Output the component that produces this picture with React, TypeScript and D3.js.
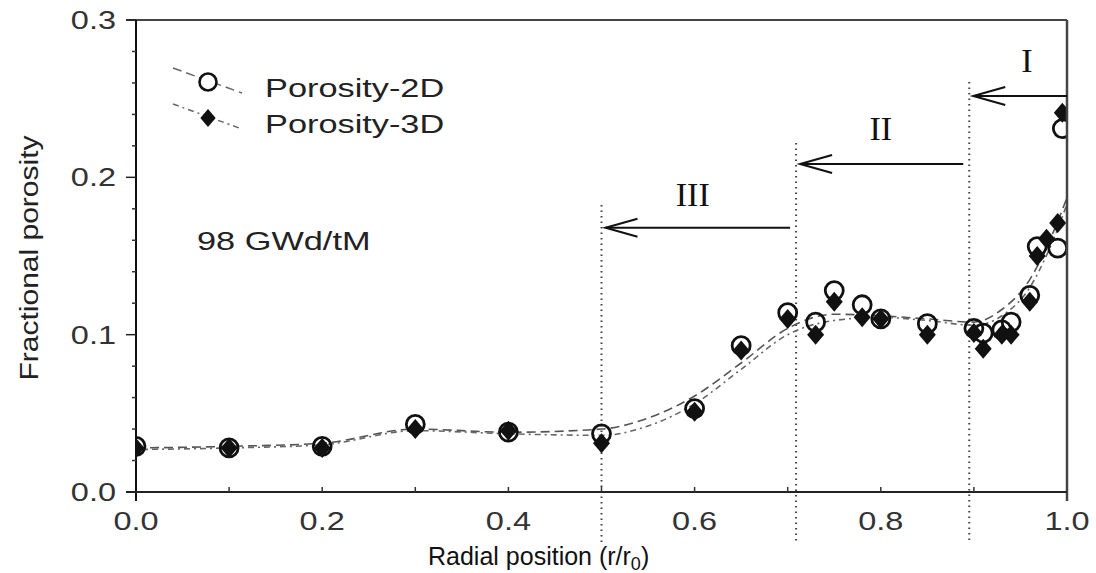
import React from 'react';
import * as d3 from 'd3';

// ---- data ----
const R2D = [0, 0.1, 0.2, 0.3, 0.4, 0.5, 0.6, 0.65, 0.7, 0.73, 0.75, 0.78, 0.8, 0.85, 0.9, 0.91, 0.93, 0.94, 0.96, 0.968, 0.99, 0.995];
const P2D = [0.029, 0.028, 0.029, 0.043, 0.038, 0.037, 0.053, 0.093, 0.114, 0.108, 0.128, 0.119, 0.11, 0.107, 0.104, 0.101, 0.103, 0.108, 0.125, 0.156, 0.155, 0.231];
const R3D = [0, 0.1, 0.2, 0.3, 0.4, 0.5, 0.6, 0.65, 0.7, 0.73, 0.75, 0.78, 0.8, 0.85, 0.9, 0.91, 0.93, 0.94, 0.96, 0.968, 0.978, 0.99, 0.995];
const P3D = [0.028, 0.028, 0.028, 0.04, 0.039, 0.031, 0.051, 0.09, 0.11, 0.1, 0.121, 0.111, 0.11, 0.1, 0.101, 0.091, 0.1, 0.1, 0.121, 0.15, 0.161, 0.171, 0.241];

const FIT_R = [0, 0.1, 0.2, 0.3, 0.4, 0.5, 0.55, 0.6, 0.65, 0.7, 0.75, 0.8, 0.85, 0.9, 0.93, 0.96, 0.98, 1.0];
const FIT_2D = [0.028, 0.029, 0.031, 0.04, 0.038, 0.04, 0.047, 0.061, 0.082, 0.104, 0.113, 0.112, 0.11, 0.108, 0.116, 0.135, 0.158, 0.187];
const FIT_3D = [0.027, 0.028, 0.03, 0.039, 0.037, 0.036, 0.042, 0.056, 0.078, 0.1, 0.109, 0.111, 0.109, 0.106, 0.112, 0.13, 0.153, 0.183];

const X_TICKS = [0, 0.2, 0.4, 0.6, 0.8, 1.0];
const X_TICK_LABELS = ['0.0', '0.2', '0.4', '0.6', '0.8', '1.0'];
const Y_TICKS = [0, 0.1, 0.2, 0.3];
const Y_TICK_LABELS = ['0.0', '0.1', '0.2', '0.3'];

const ZONE_LABELS = ['I', 'II', 'III'];
const ZONE_BOUND = [0.895, 0.709, 0.5];      // dotted line position
const ZONE_FROM = [1.0, 0.895, 0.709];       // arrow tail
const ZONE_TOP = [0.2606, 0.2218, 0.1824];   // dotted line top
const ZONE_ARROW_Y = [0.2517, 0.2085, 0.168];
const ZONE_LABEL_R = [0.957, 0.8, 0.598];
const ZONE_LABEL_Y = [0.267, 0.224, 0.182];

const W = 1096, H = 573;
const X0 = 136, X1 = 1067, Y0 = 492, Y1 = 20;

function T({ x, y, size, sx = 1, anchor = 'start', rot = 0, fill = '#222', family = 'Arial, "Liberation Sans", sans-serif', children }: any) {
  return (
    <text
      transform={`translate(${x},${y}) rotate(${rot}) scale(${sx},1)`}
      fontSize={size}
      fontFamily={family}
      textAnchor={anchor}
      fill={fill}
    >
      {children}
    </text>
  );
}

export default function App() {
  const x = d3.scaleLinear().domain([0, 1]).range([X0, X1]);
  const y = d3.scaleLinear().domain([0, 0.3]).range([Y0, Y1]);

  const line = d3.line<[number, number]>().x(d => x(d[0])).y(d => y(d[1])).curve(d3.curveMonotoneX);
  const fit2 = line(FIT_R.map((r, i) => [r, FIT_2D[i]]));
  const fit3 = line(FIT_R.map((r, i) => [r, FIT_3D[i]]));

  const minorY = d3.range(0, 0.3001, 0.02).filter(v => Math.abs(v * 10 - Math.round(v * 10)) > 1e-6);
  const minorX = d3.range(0.1, 1.0, 0.1);

  const diamond = (cx: number, cy: number, s = 10) => `M${cx},${cy - s}L${cx + s * 0.85},${cy}L${cx},${cy + s}L${cx - s * 0.85},${cy}Z`;

  return (
    <svg width={W} height={H} style={{ position: 'absolute', left: 0, top: 0, background: '#fff' }}>
      <defs>
        <clipPath id="plot">
          <rect x={X0} y={Y1} width={X1 - X0} height={Y0 - Y1} />
        </clipPath>
      </defs>

      {/* zone dotted lines */}
      {ZONE_BOUND.map((b, i) => (
        <line key={'zl' + i} x1={x(b)} x2={x(b)} y1={y(ZONE_TOP[i])} y2={y(-0.032)} stroke="#444" strokeWidth={2} strokeDasharray="1.5,4" />
      ))}

      {/* fitted curves */}
      <path d={fit2 || ''} fill="none" stroke="#555" strokeWidth={1.6} strokeDasharray="9,5" clipPath="url(#plot)" />
      <path d={fit3 || ''} fill="none" stroke="#666" strokeWidth={1.6} strokeDasharray="6,4,2,4" clipPath="url(#plot)" />

      {/* markers */}
      <g clipPath="url(#plot)">
        {R2D.map((r, i) => (
          <circle key={'c' + i} cx={x(r)} cy={y(P2D[i])} r={9} fill="none" stroke="#111" strokeWidth={2.8} />
        ))}
        {R3D.map((r, i) => (
          <path key={'d' + i} d={diamond(x(r), y(P3D[i]))} fill="#111" />
        ))}
      </g>

      {/* frame */}
      <line x1={X0 - 10} x2={X1} y1={Y1} y2={Y1} stroke="#444" strokeWidth={2} />
      <line x1={X1} x2={X1} y1={Y1} y2={Y0 + 9} stroke="#444" strokeWidth={2.5} />
      <line x1={X0} x2={X0} y1={Y1} y2={Y0 + 9} stroke="#111" strokeWidth={2} />
      <line x1={X0 - 10} x2={X1} y1={Y0} y2={Y0} stroke="#222" strokeWidth={2} />

      {/* y ticks */}
      {Y_TICKS.map((v, i) => (
        <g key={'yt' + i}>
          <line x1={X0 - 10} x2={X0} y1={y(v)} y2={y(v)} stroke="#222" strokeWidth={1.5} />
          <T x={116} y={y(v) + 9} size={25} sx={1.3} anchor="end" fill="#333">{Y_TICK_LABELS[i]}</T>
        </g>
      ))}
      {minorY.map((v, i) => (
        <line key={'ym' + i} x1={X0 - 4} x2={X0} y1={y(v)} y2={y(v)} stroke="#333" strokeWidth={1.5} />
      ))}

      {/* x ticks */}
      {minorX.map((v, i) => (
        <line key={'xm' + i} x1={x(v)} x2={x(v)} y1={Y0} y2={Y0 - 5} stroke="#333" strokeWidth={1.5} />
      ))}
      {X_TICKS.map((v, i) => (
        <T key={'xt' + i} x={x(v)} y={530} size={25} sx={1.3} anchor="middle" fill="#333">{X_TICK_LABELS[i]}</T>
      ))}

      {/* axis titles */}
      <text x={428} y={565} fontSize={25} fontFamily='Arial, "Liberation Sans", sans-serif' fill="#111">
        Radial position (r/r<tspan fontSize={18} dy={5}>0</tspan><tspan dy={-5}>)</tspan>
      </text>
      <T x={38} y={258} size={25} sx={1.2} anchor="middle" rot={-90} fill="#222">Fractional porosity</T>

      {/* zone arrows & labels */}
      {ZONE_LABELS.map((lab, i) => {
        const tip = x(ZONE_BOUND[i]) + 4;
        const tail = i === 0 ? x(ZONE_FROM[i]) : x(ZONE_FROM[i]) - 6;
        const ay = y(ZONE_ARROW_Y[i]);
        return (
          <g key={'z' + i}>
            <line x1={tail} x2={tip} y1={ay} y2={ay} stroke="#111" strokeWidth={2} />
            <path d={`M${tip + 32},${ay - 9}L${tip},${ay}L${tip + 32},${ay + 9}`} fill="none" stroke="#111" strokeWidth={2} />
            <T x={x(ZONE_LABEL_R[i])} y={y(ZONE_LABEL_Y[i])} size={34} anchor="middle" family='"Times New Roman", "Liberation Serif", serif' fill="#111">{lab}</T>
          </g>
        );
      })}

      {/* legend */}
      <line x1={173} y1={68} x2={242} y2={93} stroke="#666" strokeWidth={1.5} strokeDasharray="9,5" />
      <circle cx={208} cy={82} r={8.5} fill="#fff" stroke="#111" strokeWidth={2.6} />
      <T x={265} y={97} size={26} sx={1.32} fill="#222">Porosity-2D</T>
      <line x1={173} y1={104} x2={242} y2={129} stroke="#666" strokeWidth={1.5} strokeDasharray="6,4,2,4" />
      <path d={diamond(208, 118, 9)} fill="#111" />
      <T x={265} y={133} size={26} sx={1.32} fill="#222">Porosity-3D</T>

      <T x={197} y={250} size={26} sx={1.32} fill="#222">98 GWd/tM</T>
    </svg>
  );
}
